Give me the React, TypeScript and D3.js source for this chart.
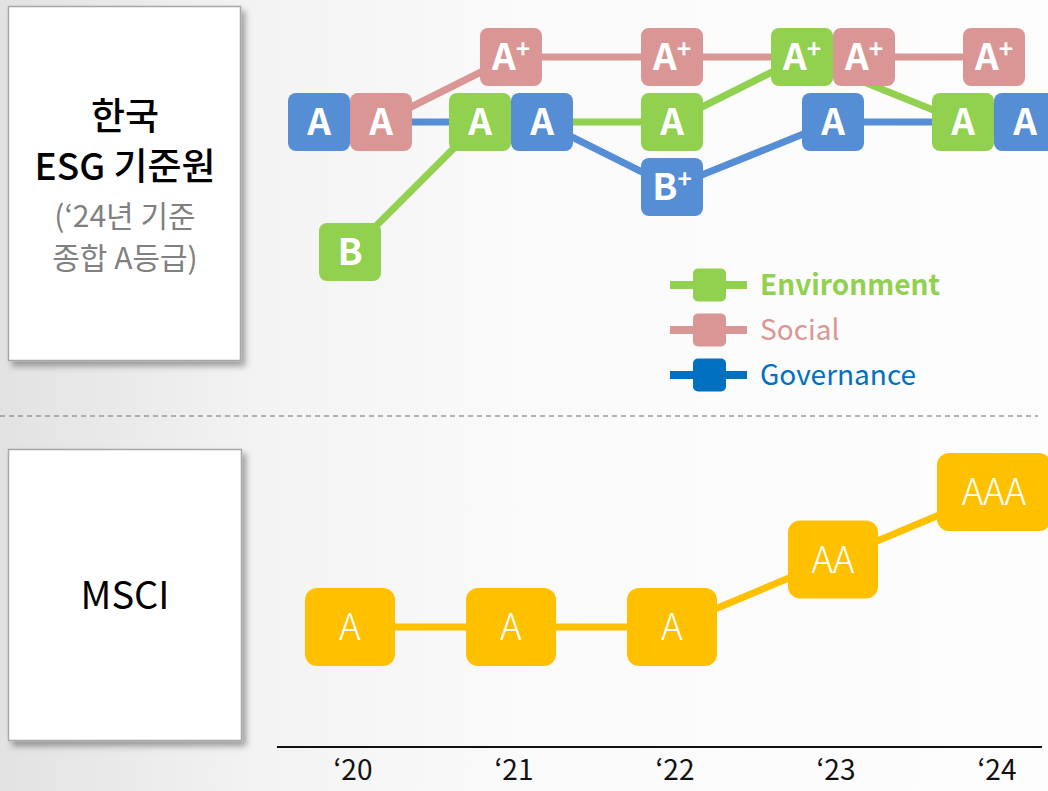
import React from 'react'
import { scalePoint, line } from 'd3'

const years = ['‘20', '‘21', '‘22', '‘23', '‘24']
const esgGrades = ['A+', 'A', 'B+', 'B']
const environment = ['B', 'A', 'A', 'A+', 'A']
const social = ['A', 'A+', 'A+', 'A+', 'A+']
const governance = ['A', 'A', 'B+', 'A', 'A']
const msciGrades = ['AAA', 'AA', 'A']
const msci = ['A', 'A', 'A', 'AA', 'AAA']

const FONT = '"Noto Sans CJK KR", "Noto Sans", sans-serif'

const series = [
  { name: 'Environment', values: environment, color: '#92d050', legendColor: '#92d050', bold: true },
  { name: 'Social', values: social, color: '#da9694', legendColor: '#da9694', bold: false },
  { name: 'Governance', values: governance, color: '#558ed5', legendColor: '#0070c0', bold: false },
]
// left-to-right order when two grades share a year and level
const placeOrder = ['Environment', 'Governance', 'Social']

const GradeLabel = ({ text, x, y, size, weight }) => {
  const plus = text.endsWith('+')
  const base = plus ? text.slice(0, -1) : text
  return (
    <text x={x} y={y + size * 0.36} textAnchor='middle' fill='#fff'
      fontFamily={FONT} fontSize={size} fontWeight={weight}>
      {base}
      {plus && <tspan fontSize={size * 0.66} dy={-size * 0.33}>+</tspan>}
    </text>
  )
}

const App = () => {
  const width = 1048
  const height = 791

  const x = scalePoint().domain(years).range([350, 994])
  const yEsg = scalePoint().domain(esgGrades).range([57, 252])
  const yMsci = scalePoint().domain(msciGrades).range([492, 627])

  const boxW = 62
  const boxH = 58

  // x position per series per year, spreading boxes that share a level
  const pos = {}
  series.forEach(s => { pos[s.name] = [] })
  years.forEach((yr, i) => {
    const groups = {}
    placeOrder.forEach(n => {
      const s = series.find(d => d.name === n)
      const g = s.values[i]
      groups[g] = groups[g] || []
      groups[g].push(n)
    })
    Object.values(groups).forEach(names => {
      names.forEach((n, k) => {
        pos[n][i] = x(yr) + (k - (names.length - 1) / 2) * boxW
      })
    })
  })

  const lineGen = line().x(d => d[0]).y(d => d[1])

  const esgLines = series.map(s => (
    <path key={s.name}
      d={lineGen(s.values.map((g, i) => [pos[s.name][i], yEsg(g)]))}
      fill='none' stroke={s.color} strokeWidth={7} />
  ))

  const esgBoxes = placeOrder.map(n => {
    const s = series.find(d => d.name === n)
    return s.values.map((g, i) => (
      <g key={n + i}>
        <rect x={pos[n][i] - boxW / 2} y={yEsg(g) - boxH / 2} width={boxW} height={boxH}
          rx={8} fill={s.color} />
        <GradeLabel text={g} x={pos[n][i]} y={yEsg(g)} size={37} weight={700} />
      </g>
    ))
  })

  const msciLine = (
    <path d={lineGen(msci.map((g, i) => [x(years[i]), yMsci(g)]))}
      fill='none' stroke='#ffc000' strokeWidth={7} />
  )

  const msciBoxes = msci.map((g, i) => {
    const w = Math.max(90, 42 + 24 * g.length)
    return (
      <g key={i}>
        <rect x={x(years[i]) - w / 2} y={yMsci(g) - 39} width={w} height={78} rx={12} fill='#ffc000' />
        <GradeLabel text={g} x={x(years[i])} y={yMsci(g)} size={37} weight={300} />
      </g>
    )
  })

  const legend = series.map((s, i) => {
    const cy = 285 + i * 45
    return (
      <g key={s.name}>
        <line x1={670} x2={747} y1={cy} y2={cy} stroke={s.legendColor} strokeWidth={8} />
        <rect x={693} y={cy - 16.5} width={33} height={33} rx={5} fill={s.legendColor} />
        <text x={760} y={cy + 10} fill={s.legendColor} fontFamily={FONT} fontSize={28}
          fontWeight={s.bold ? 700 : 400}>{s.name}</text>
      </g>
    )
  })

  const yearLabels = years.map(yr => (
    <text key={yr} x={x(yr) + 3} y={780} textAnchor='middle' fontFamily={FONT}
      fontSize={28} fill='#111'>{yr}</text>
  ))

  return (
    <svg width={width} height={height} style={{ position: 'absolute', left: 0, top: 0, display: 'block' }}>
      <defs>
        <linearGradient id='bg' x1='0' x2='1' y1='0' y2='0'>
          <stop offset='0' stopColor='#e2e2e2' />
          <stop offset='0.25' stopColor='#f3f3f3' />
          <stop offset='0.5' stopColor='#fafafa' />
          <stop offset='1' stopColor='#fdfdfd' />
        </linearGradient>
        <filter id='shadow' x='-10%' y='-10%' width='130%' height='130%'>
          <feDropShadow dx={4} dy={5} stdDeviation={3} floodColor='#000' floodOpacity={0.35} />
        </filter>
      </defs>
      <rect width={width} height={height} fill='url(#bg)' />

      <rect x={8.5} y={6.5} width={232} height={354} fill='#fff' stroke='#a6a6a6' strokeWidth={1.5} filter='url(#shadow)' />
      <g fontFamily={FONT} textAnchor='middle'>
        <text x={125} y={130} fontSize={37} fontWeight={500} fill='#000'>한국</text>
        <text x={125} y={180} fontSize={37} fontWeight={500} fill='#000'>ESG 기준원</text>
        <text x={125} y={227} fontSize={30} fill='#808080'>(‘24년 기준</text>
        <text x={125} y={269} fontSize={30} fill='#808080'>종합 A등급)</text>
      </g>

      <rect x={8.5} y={449.5} width={233} height={291} fill='#fff' stroke='#a6a6a6' strokeWidth={1.5} filter='url(#shadow)' />
      <text x={125} y={609} textAnchor='middle' fontFamily={FONT} fontSize={38} fill='#000'>MSCI</text>

      <line x1={0} x2={1038} y1={416} y2={416} stroke='#9a9a9a' strokeWidth={1.5} strokeDasharray='5 4' />

      {esgLines}
      {esgBoxes}
      {legend}

      {msciLine}
      {msciBoxes}

      <line x1={277} x2={1042} y1={747} y2={747} stroke='#111' strokeWidth={2} />
      {yearLabels}
    </svg>
  )
}

export default App
